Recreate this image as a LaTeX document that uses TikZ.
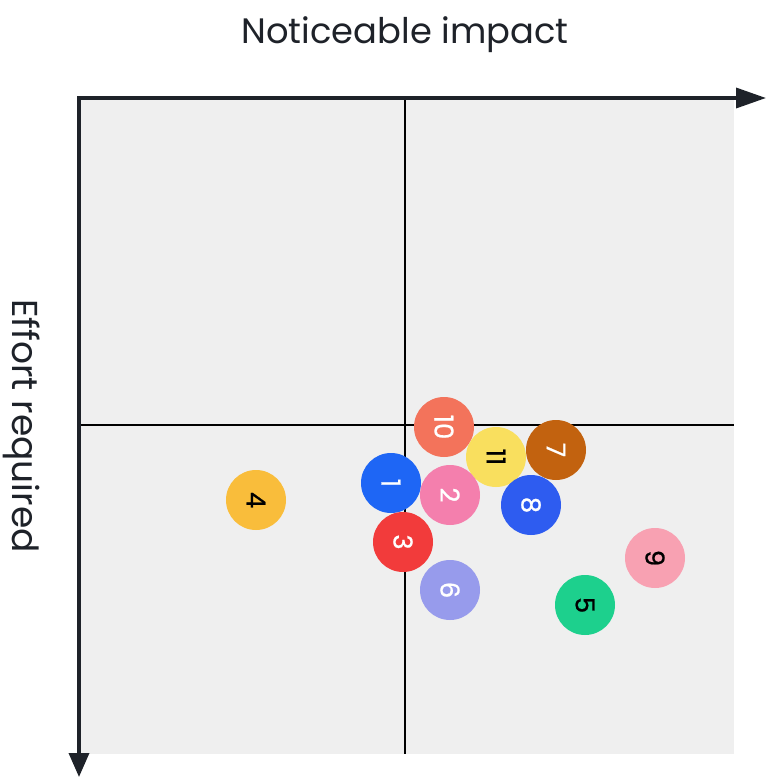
\documentclass[tikz,border=0pt]{standalone}
\usepackage{fontspec}
\setmainfont{Poppins}
\newfontfamily\digitfont[FakeBold=0.8]{Poppins}
\usetikzlibrary{arrows.meta}
\definecolor{axisc}{HTML}{1E2229}
\definecolor{panel}{HTML}{EFEFEF}
\definecolor{cA}{HTML}{1E66F5}
\definecolor{cB}{HTML}{F47FAD}
\definecolor{cC}{HTML}{F23B3B}
\definecolor{cD}{HTML}{F9BD3B}
\definecolor{cE}{HTML}{1DD08D}
\definecolor{cF}{HTML}{979BEC}
\definecolor{cG}{HTML}{C2620F}
\definecolor{cH}{HTML}{2E5CF0}
\definecolor{cI}{HTML}{F8A1B2}
\definecolor{cJ}{HTML}{F3735B}
\definecolor{cK}{HTML}{F9DF5E}
\tikzset{
  dot/.style={circle, minimum size=60pt, inner sep=0pt, draw=none, rotate=-90,
    font=\digitfont\fontsize{26}{28}\selectfont},
  light/.style={dot, text=white},
  dark/.style={dot, text=black},
  axisline/.style={line width=3.5pt, draw=axisc, -{Triangle[length=30pt,width=20pt]}},
  gridline/.style={line width=1.5pt, draw=black},
  label/.style={text=axisc, inner sep=0pt}
}
\begin{document}
\begin{tikzpicture}[x=1pt,y=-1pt]
\useasboundingbox (0,0) rectangle (770,777);
\fill[panel] (79,98) rectangle (734,754);
\coordinate (vt) at (405,98);
\coordinate (vb) at (405,754);
\coordinate (hl) at (79,425);
\coordinate (hr) at (734,425);
\draw[gridline] (vt) -- (vb);
\draw[gridline] (hl) -- (hr);
\coordinate (o) at (79,98);
\coordinate (oo) at (77.25,98);
\coordinate (xe) at (766,98);
\coordinate (ye) at (79,777);
\draw[axisline] (oo) -- (xe);
\draw[axisline, -{Triangle[length=24pt,width=20pt]}] (o) -- (ye);
\node[label, font=\fontsize{35.3}{40}\selectfont] (title) at (405,35) {Noticeable impact};
\node[label, font=\fontsize{36}{40}\selectfont, rotate=-90] (ylab) at (22,426) {Effort required};
\node[light, fill=cJ] (c10) at (444,427) {10};
\node[dark, fill=cK] (c11) at (496,457) {11};
\node[light, fill=cG] (c7) at (556,450) {7};
\node[light, fill=cA] (c1) at (391,483) {1};
\node[light, fill=cB] (c2) at (450,495) {2};
\node[light, fill=cH] (c8) at (531,505) {8};
\node[light, fill=cC] (c3) at (403,542) {3};
\node[light, fill=cF] (c6) at (450,590) {6};
\node[dark, fill=cE] (c5) at (585,605) {5};
\node[dark, fill=cI] (c9) at (655,558) {9};
\node[dark, fill=cD] (c4) at (256,500) {4};
\end{tikzpicture}
\end{document}
